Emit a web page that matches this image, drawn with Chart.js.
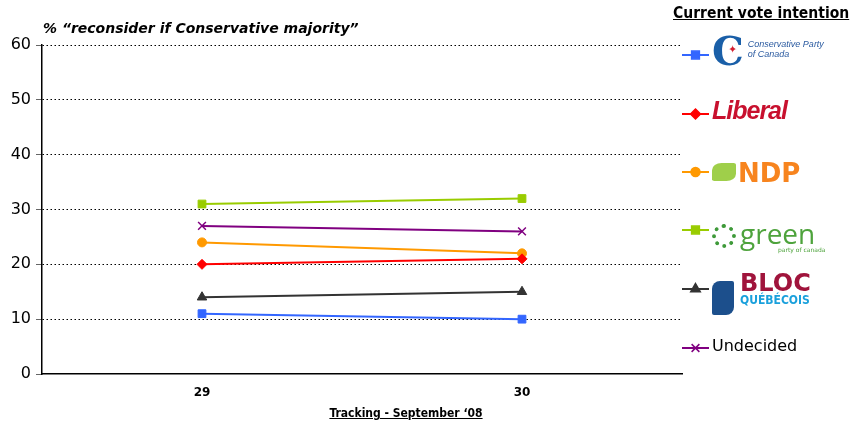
<!DOCTYPE html>
<html>
<head>
<meta charset="utf-8">
<script src="https://cdn.jsdelivr.net/npm/chart.js@4.4.1/dist/chart.umd.min.js"></script>
<style>
  html,body{margin:0;padding:0;background:#fff;}
  #wrap{position:relative;width:852px;height:425px;overflow:hidden;font-family:"DejaVu Sans",sans-serif;}
  #chart{position:absolute;left:0;top:0;}
  .title{position:absolute;left:43px;top:20px;font:italic bold 14px "DejaVu Sans";color:#000;white-space:nowrap;}
  .xtitle{position:absolute;left:0;width:812px;top:406px;text-align:center;font:bold 12px "DejaVu Sans Condensed","DejaVu Sans";text-decoration:underline;}
  .lhead{position:absolute;left:673px;top:4px;font:bold 15.5px "DejaVu Sans Condensed","DejaVu Sans";text-decoration:underline;white-space:nowrap;}
  .item{position:absolute;left:682px;height:40px;}
  .item canvas{position:absolute;left:0;top:12px;}
  .logo{position:absolute;left:30px;white-space:nowrap;}
</style>
</head>
<body>
<div id="wrap">
  <canvas id="chart" width="852" height="425"></canvas>
  <div class="title">% “reconsider if Conservative majority”</div>
  <div class="xtitle">Tracking - September ‘08</div>
  <div class="lhead">Current vote intention</div>
  <div id="legend"></div>
</div>
<script>
// data
const days = ["29", "30"];
const conservative = [11, 10];
const liberal = [20, 21];
const ndp = [24, 22];
const green = [31, 32];
const bloc = [14, 15];
const undecided = [27, 26];
const yTicks = [0, 10, 20, 30, 40, 50, 60];

const series = [
  { label:"Conservative", data:conservative, color:"#3366ff", style:"rect", r:5.5,
    logo:'<span style="font:bold 40px \'DejaVu Serif\';color:#1a5fa8;position:relative;top:-14px;">C</span><span style="position:absolute;left:16px;top:2px;color:#d42030;font-size:11px;">✦</span><span style="display:inline-block;font:italic 9px \'Liberation Sans\';color:#2a5aa0;line-height:10px;position:relative;top:-22px;left:4px;">Conservative Party<br>of Canada</span>' },
  { label:"Liberal", data:liberal, color:"#ff0000", style:"rectRot", r:5,
    logo:'<span style="font:italic bold 25px \'Liberation Sans\';color:#c8102e;position:relative;top:-4px;letter-spacing:-1px;">Liberal</span>' },
  { label:"NDP", data:ndp, color:"#ff9900", style:"circle", r:4.5,
    logo:'<span style="display:inline-block;width:24px;height:18px;background:#9fcf4a;border-radius:40% 10% 40% 10%;position:relative;top:-1px;"></span><span style="font:900 26px \'DejaVu Sans\';color:#f7841e;position:relative;top:0px;margin-left:2px;">NDP</span>' },
  { label:"green", data:green, color:"#99cc00", style:"rect", r:5.5,
    logo:'<span style="display:inline-block;width:24px;height:24px;border-radius:50%;border:4px dotted #3f9a3a;box-sizing:border-box;position:relative;top:2px;"></span><span style="font:28px \'Open Sans\';color:#4ea33c;margin-left:4px;position:relative;top:-2px;">green</span><span style="position:absolute;left:66px;top:30px;font:6px \'DejaVu Sans\';color:#4ea33c;">party of canada</span>' },
  { label:"BLOC", data:bloc, color:"#333333", style:"triangle", r:5.5,
    logo:'<span style="display:inline-block;width:22px;height:34px;background:#1c4f8c;border-radius:8px 2px 8px 2px;position:relative;top:6px;"></span><span style="position:absolute;left:28px;top:-6px;font:900 24px \'DejaVu Sans\';color:#a0143c;">BLOC</span><span style="position:absolute;left:28px;top:18px;font:bold 12px \'DejaVu Sans Condensed\';color:#1aa0dc;">QUÉBÉCOIS</span>' },
  { label:"Undecided", data:undecided, color:"#800080", style:"crossRot", r:5.5,
    logo:'<span style="font:16px \'DejaVu Sans\';color:#000;position:relative;top:2px;">Undecided</span>' }
];

const legendY = [55, 114, 172, 230, 289, 348];

new Chart(document.getElementById("chart"), {
  type: "line",
  data: {
    labels: days,
    datasets: series.map(s => ({
      label: s.label, data: s.data,
      borderColor: s.color, backgroundColor: s.color,
      borderWidth: 2, pointStyle: s.style, pointRadius: s.r,
      pointBorderWidth: s.style === "crossRot" ? 1.5 : 1,
      pointBorderColor: s.color, tension: 0
    }))
  },
  options: {
    responsive: false, animation: false,
    layout: { padding: { top: 45, right: 170, left: 0, bottom: 0 } },
    plugins: { legend: { display: false }, title: { display: false }, tooltip: { enabled: false } },
    scales: {
      x: {
        offset: true,
        grid: { display: false, drawTicks: false },
        border: { display: true, color: "#000", width: 1.5 },
        ticks: { color: "#000", font: { family: "DejaVu Sans", weight: "bold", size: 12 }, padding: 12 },
        afterFit: s => { s.height = 51; }
      },
      y: {
        min: 0, max: 60,
        afterBuildTicks: s => { s.ticks = yTicks.map(v => ({ value: v })); },
        grid: {
          color: c => c.tick.value === 0 ? "rgba(0,0,0,0)" : "#000",
          lineWidth: 1, tickLength: 6, tickColor: "#666", tickBorderDash: [], drawOnChartArea: true
        },
        border: { display: true, color: "#000", width: 1.5, dash: [1.5, 2.5] },
        ticks: { color: "#000", font: { family: "DejaVu Sans", size: 16 }, padding: 5 },
        afterFit: s => { s.width = 42; }
      }
    }
  }
});

// legend
const lg = document.getElementById("legend");
series.forEach((s, i) => {
  const d = document.createElement("div");
  d.className = "item";
  d.style.top = (legendY[i] - 20) + "px";
  const c = document.createElement("canvas");
  c.width = 28; c.height = 16;
  const g = c.getContext("2d");
  g.strokeStyle = s.color; g.lineWidth = 2;
  g.beginPath(); g.moveTo(0, 8); g.lineTo(27, 8); g.stroke();
  g.fillStyle = s.color; g.strokeStyle = s.color; g.lineWidth = 1.5;
  Chart.helpers.drawPoint(g, { pointStyle: s.style, radius: s.r, rotation: 0, borderWidth: 1.5 }, 13.5, 8);
  d.appendChild(c);
  const l = document.createElement("div");
  l.className = "logo";
  l.style.top = "6px";
  l.innerHTML = s.logo;
  d.appendChild(l);
  lg.appendChild(d);
});
</script>
</body>
</html>
